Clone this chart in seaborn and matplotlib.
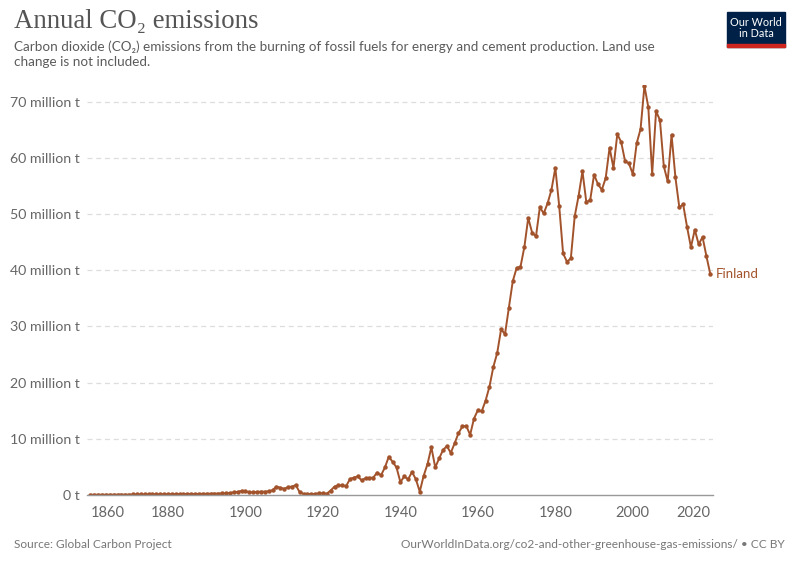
import numpy as np
import pandas as pd
import matplotlib
matplotlib.use("Agg")
import matplotlib.pyplot as plt
from matplotlib.patches import Rectangle
import seaborn as sns

# ---------------- data ----------------
years = list(range(1860, 2021))
emissions_mt = [
    # 1860-1869
    0.05, 0.05, 0.05, 0.06, 0.06, 0.06, 0.07, 0.07, 0.07, 0.08,
    # 1870-1879
    0.08, 0.09, 0.09, 0.10, 0.10, 0.11, 0.11, 0.12, 0.12, 0.13,
    # 1880-1889
    0.13, 0.14, 0.15, 0.16, 0.17, 0.20, 0.19, 0.18, 0.20, 0.22,
    # 1890-1899
    0.22, 0.24, 0.25, 0.26, 0.28, 0.30, 0.35, 0.50, 0.55, 0.75,
    # 1900-1909
    0.65, 0.50, 0.45, 0.55, 0.60, 0.60, 0.65, 0.85, 1.50, 1.30,
    # 1910-1919
    1.10, 1.40, 1.50, 1.75, 0.50, 0.20, 0.20, 0.15, 0.20, 0.30,
    # 1920-1929
    0.30, 0.25, 0.80, 1.50, 1.70, 1.70, 1.60, 2.85, 3.10, 3.30,
    # 1930-1939
    2.60, 3.00, 3.05, 3.10, 4.00, 3.50, 4.90, 6.80, 5.90, 4.90,
    # 1940-1949
    2.30, 3.30, 2.80, 4.10, 2.80, 0.60, 3.40, 5.50, 8.50, 4.90,
    # 1950-1959
    6.50, 8.00, 8.70, 7.50, 9.20, 11.0, 12.2, 12.3, 10.7, 13.6,
    # 1960-1969
    15.1, 14.9, 16.8, 19.3, 22.8, 25.3, 29.5, 28.6, 33.3, 38.0,
    # 1970-1979
    40.4, 40.6, 44.1, 49.3, 46.7, 46.0, 51.2, 50.1, 51.9, 54.3,
    # 1980-1989
    58.2, 51.4, 43.0, 41.5, 42.1, 49.6, 53.2, 57.6, 52.1, 52.5,
    # 1990-1999
    57.0, 55.3, 54.3, 56.4, 61.8, 58.2, 64.2, 62.8, 59.4, 59.0,
    # 2000-2009
    57.1, 62.6, 65.1, 72.8, 69.0, 57.1, 68.3, 66.7, 58.5, 55.8,
    # 2010-2020
    64.1, 56.5, 51.2, 51.7, 47.7, 44.1, 47.2, 44.6, 45.9, 42.5, 39.3,
]
country = "Finland"
y_ticks = [0, 10, 20, 30, 40, 50, 60, 70]
y_tick_labels = ["0 t", "10 million t", "20 million t", "30 million t",
                 "40 million t", "50 million t", "60 million t", "70 million t"]
x_ticks = [1860, 1880, 1900, 1920, 1940, 1960, 1980, 2000, 2020]

df = pd.DataFrame({"Year": years, "CO2": emissions_mt, "Entity": country})

# ---------------- style ----------------
sns.set_theme(style="white")
plt.rcParams["font.family"] = ["Lato", "DejaVu Sans"]

LINE = "#a2532b"
GREY_TEXT = "#5b5b5b"
TICK_TEXT = "#666666"

W, H = 800, 565
fig = plt.figure(figsize=(W / 100, H / 100), dpi=100)

x0, x1 = 87, 713
ytop, ybot = 85, 495
ax = fig.add_axes([x0 / W, 1 - ybot / H, (x1 - x0) / W, (ybot - ytop) / H])

sns.lineplot(data=df, x="Year", y="CO2", ax=ax, color=LINE, linewidth=1.4,
             marker="o", markersize=3.2, markeredgewidth=0, legend=False)

ax.set_xlim(1859.1, 2020.7)
ax.set_ylim(0, 72.95)

ax.set_yticks(y_ticks)
ax.set_yticklabels(y_tick_labels)
ax.set_xticks(x_ticks)
ax.set_xticklabels([str(t) for t in x_ticks])
ax.set_xlabel("")
ax.set_ylabel("")

for y in y_ticks[1:]:
    ax.axhline(y, color="#dddddd", linewidth=0.9, linestyle=(0, (4, 3)), zorder=0)

for s in ["top", "right", "left"]:
    ax.spines[s].set_visible(False)
ax.spines["bottom"].set_color("#999999")
ax.spines["bottom"].set_linewidth(1.0)

ax.tick_params(axis="y", length=0, pad=5, labelsize=10.2, labelcolor=TICK_TEXT)
ax.tick_params(axis="x", length=5, width=1, color="#999999", pad=3,
               labelsize=10.5, labelcolor=TICK_TEXT, direction="out")
xl = ax.get_xticklabels()
xl[0].set_ha("left")
xl[-1].set_ha("right")

ax.annotate(country, xy=(years[-1], emissions_mt[-1]), xytext=(4, 0),
            textcoords="offset points", va="center", ha="left",
            color=LINE, fontsize=9.5)

# ---------------- texts ----------------
fig.text(14 / W, 1 - 9 / H, "Annual CO\u2082 emissions",
         family=["Liberation Serif", "DejaVu Serif"], fontsize=19.3,
         color="#555555", va="top", ha="left")
fig.text(14 / W, 1 - 40 / H,
         "Carbon dioxide (CO\u2082) emissions from the burning of fossil fuels for energy and cement production. Land use\nchange is not included.",
         family=["Lato", "DejaVu Sans"], fontsize=9.75, color=GREY_TEXT,
         va="top", ha="left", linespacing=1.38)

fig.text(14 / W, 1 - 545 / H, "Source: Global Carbon Project",
         fontsize=8.6, color="#777777", va="center", ha="left")
fig.text(785 / W, 1 - 545 / H,
         "OurWorldInData.org/co2-and-other-greenhouse-gas-emissions/ \u2022 CC BY",
         fontsize=8.6, color="#777777", va="center", ha="right")

# logo
lx, ly, lw, lh = 727, 12, 58, 35
fig.patches.append(Rectangle((lx / W, 1 - (ly + lh) / H), lw / W, lh / H,
                             transform=fig.transFigure, color="#002147", zorder=5))
fig.patches.append(Rectangle((lx / W, 1 - (ly + lh) / H), lw / W, 3.5 / H,
                             transform=fig.transFigure, color="#ce261e", zorder=6))
fig.text((lx + lw / 2) / W, 1 - (ly + 16) / H, "Our World\nin Data",
         color="white", fontsize=7.8, ha="center", va="center",
         linespacing=1.0, zorder=7)

fig.savefig("out.png", dpi=100, facecolor="white")
